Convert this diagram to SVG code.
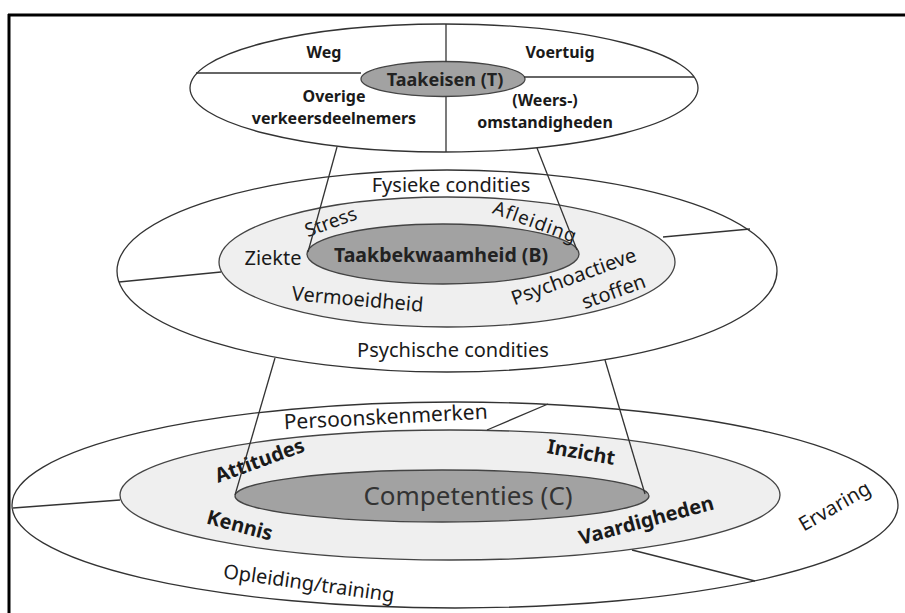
<svg xmlns="http://www.w3.org/2000/svg" width="905" height="613" viewBox="0 0 905 613">
<style>
.ring{fill:#ffffff;stroke:#333;stroke-width:1.3}
.light{fill:#efefef;stroke:#444;stroke-width:1.3}
.dark{fill:#a2a2a2;stroke:#444;stroke-width:1.3}
.ln{stroke:#333;stroke-width:1.3;fill:none}
text{font-family:"Noto Sans","Open Sans","DejaVu Sans",sans-serif;fill:#1a1a1a;text-anchor:middle}
.t{font-size:16px;font-weight:bold}
.m{font-size:20px}
.b{font-size:20px}
.bb{font-size:20px;font-weight:bold}
</style>
<rect x="0" y="0" width="905" height="613" fill="#ffffff"/>
<g id="frame">
<line x1="8" y1="15" x2="905" y2="15" stroke="#000" stroke-width="3"/>
<line x1="9" y1="14" x2="9" y2="613" stroke="#000" stroke-width="3"/>
</g>
<g id="level-C">
<ellipse class="ring" cx="455" cy="505" rx="443" ry="103"/>
<ellipse class="light" cx="450" cy="495" rx="330" ry="65"/>
<ellipse class="dark" cx="442" cy="496" rx="207" ry="26"/>
<text x="468" y="505" style="font-size:26px;fill:#333">Competenties (C)</text>
<text class="b" transform="translate(386,424) rotate(-3)" style="font-size:21px">Persoonskenmerken</text>
<text class="bb" transform="translate(262,467) rotate(-20)">Attitudes</text>
<text class="bb" transform="translate(580,459) rotate(10)">Inzicht</text>
<text class="bb" transform="translate(238,532) rotate(15)">Kennis</text>
<text class="bb" transform="translate(648,527) rotate(-15)">Vaardigheden</text>
<text class="b" transform="translate(838,512) rotate(-30)">Ervaring</text>
<text class="b" transform="translate(308,590) rotate(8)">Opleiding/training</text>
</g>
<g id="level-B">
<ellipse class="ring" cx="447" cy="271" rx="330" ry="101"/>
<ellipse class="light" cx="447" cy="262" rx="228" ry="65"/>
<ellipse class="dark" cx="443" cy="254" rx="136" ry="30"/>
<text x="441" y="262" style="font-size:19.5px;font-weight:bold;fill:#222">Taakbekwaamheid (B)</text>
<text class="m" x="451" y="192">Fysieke condities</text>
<text class="m" x="453" y="357">Psychische condities</text>
<text class="m" transform="translate(333,228) rotate(-20)" style="font-size:19px">Stress</text>
<text class="m" transform="translate(533,228) rotate(20)" style="font-size:19px" letter-spacing="1">Afleiding</text>
<text class="m" x="273" y="265">Ziekte</text>
<text class="m" transform="translate(357,306) rotate(5)">Vermoeidheid</text>
<text class="m" transform="translate(576,283) rotate(-20)">Psychoactieve</text>
<text class="m" transform="translate(616,298) rotate(-20)">stoffen</text>
</g>
<g id="level-T">
<ellipse class="ring" cx="444" cy="88" rx="254" ry="64"/>
<ellipse class="dark" cx="443" cy="79" rx="82" ry="17.5"/>
<text x="445" y="86" style="font-size:18px;font-weight:bold;fill:#222">Taakeisen (T)</text>
<text class="t" x="324" y="58">Weg</text>
<text class="t" x="560" y="58">Voertuig</text>
<text class="t" x="334" y="102">Overige</text>
<text class="t" x="334" y="124">verkeersdeelnemers</text>
<text class="t" x="545" y="106">(Weers-)</text>
<text class="t" x="545" y="128">omstandigheden</text>
</g>
<g id="connectors">
<line class="ln" x1="446" y1="24" x2="446" y2="61.5"/>
<line class="ln" x1="446" y1="96.5" x2="446" y2="152"/>
<line class="ln" x1="196" y1="73" x2="361" y2="73"/>
<line class="ln" x1="524" y1="77" x2="694" y2="77"/>
<line class="ln" x1="337" y1="147" x2="308" y2="252"/>
<line class="ln" x1="537" y1="148" x2="577" y2="250"/>
<line class="ln" x1="119" y1="282" x2="221" y2="272"/>
<line class="ln" x1="663" y1="237" x2="750" y2="229"/>
<line class="ln" x1="275" y1="358" x2="235" y2="495"/>
<line class="ln" x1="605" y1="360" x2="645" y2="494"/>
<line class="ln" x1="13" y1="508" x2="120" y2="500"/>
<line class="ln" x1="487" y1="430" x2="548" y2="404"/>
<line class="ln" x1="632" y1="550" x2="755" y2="581"/>
</g>
</svg>
